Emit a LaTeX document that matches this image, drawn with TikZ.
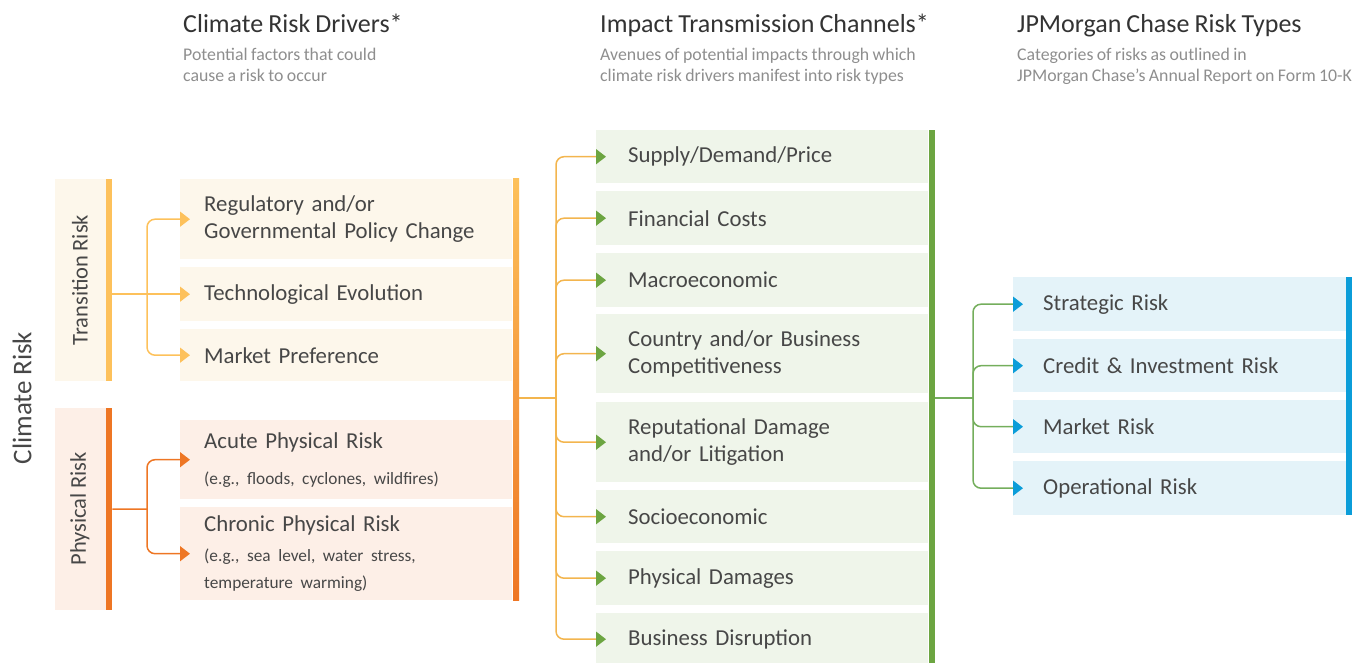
\documentclass[tikz,border=0pt]{standalone}
\usepackage{fontspec}
\setmainfont{Carlito}[WordSpace=0.85]
\usetikzlibrary{arrows.meta}
\frenchspacing

\definecolor{yellowbar}{HTML}{FDC15B}
\definecolor{creamfill}{HTML}{FDF7EB}
\definecolor{orangebar}{HTML}{EE7624}
\definecolor{peachfill}{HTML}{FDEFE7}
\definecolor{chgreen}{HTML}{6CA541}
\definecolor{greenfill}{HTML}{EFF5EA}
\definecolor{riskblue}{HTML}{0B9DD9}
\definecolor{bluefill}{HTML}{E4F3F9}
\definecolor{chline}{HTML}{F3B54E}
\definecolor{rkline}{HTML}{74AE5C}
\definecolor{txtgray}{HTML}{474747}
\definecolor{subgray}{HTML}{8E8E8E}

\newcommand{\boxfont}{\fontsize{22.8}{27}\selectfont}
\newcommand{\smallfont}{\fontsize{17.3}{21}\selectfont}

\begin{document}
\begin{tikzpicture}[x=1pt, y=-1pt,
        % 定義通用樣式
        catbox/.style={rectangle, anchor=north west, inner sep=0pt, minimum width=57pt, minimum height=202pt, fill=#1}, % 左側分類框
        catlabel/.style={rotate=90, font=\fontsize{22.5}{26}\selectfont, text=txtgray}, % 直排文字
        item/.style={rectangle, anchor=north west, inner ysep=0pt, align=left, font=\boxfont, text=txtgray}, % 項目框
        drvbox/.style={item, inner xsep=24pt, text width=284pt, fill=#1}, % 驅動因素框
        chbox/.style={item, inner xsep=32pt, text width=268pt, fill=greenfill}, % 傳導管道框
        rkbox/.style={item, inner xsep=30pt, text width=273pt, fill=bluefill}, % 風險類型框
        head/.style={anchor=north west, inner sep=0pt, font=\fontsize{26}{30}\selectfont, text=black!80}, % 標題
        subhead/.style={anchor=north west, inner sep=0pt, align=left, font=\fontsize{17.8}{21}\selectfont, text=subgray}, % 副標題
        link/.style={line width=1.5pt, rounded corners=8pt}, % 連接線
        tip/.style={-{Triangle[length=10pt, width=15pt, color=#1]}, shorten >=-10pt} % 箭頭
    ]

        \useasboundingbox (0,0) rectangle (1366,663);

        % --- 標題列 ---
        \node[head] (h1) at (183,14) {Climate Risk Drivers*};
        \node[subhead] (s1) at (183,48) {Potential factors that could\\cause a risk to occur};
        \node[head] (h2) at (600,14) {Impact Transmission Channels*};
        \node[subhead] (s2) at (600,48) {Avenues of potential impacts through which\\climate risk drivers manifest into risk types};
        \node[head] (h3) at (1017,14) {JPMorgan Chase Risk Types};
        \node[subhead] (s3) at (1017,48) {Categories of risks as outlined in\\JPMorgan Chase’s Annual Report on Form 10-K};

        % --- 左側: Climate Risk ---
        \node[rotate=90, font=\fontsize{27}{30}\selectfont, text=txtgray] (climate) at (22,398) {Climate Risk};

        % 1. 分類框 (右側色條)
        \node[catbox=creamfill] (trans) at (55,179) {};
        \fill[yellowbar] (106,179) rectangle (112,381);
        \node[catlabel] (translbl) at (80,280) {Transition Risk};
        \node[catbox=peachfill] (phys) at (55,408) {};
        \fill[orangebar] (106,408) rectangle (112,610);
        \node[catlabel] (physlbl) at (80,509) {Physical Risk};

        % --- 圖 (a): Climate Risk Drivers ---
        \node[drvbox=creamfill, minimum height=80pt] (reg) at (180,179) {Regulatory and/or\\Governmental Policy Change};
        \node[drvbox=creamfill, minimum height=54pt] (tech) at (180,267) {Technological Evolution};
        \node[drvbox=creamfill, minimum height=52pt] (mkt) at (180,329) {Market Preference};
        \node[drvbox=peachfill, minimum height=79pt] (acute) at (180,420) {Acute Physical Risk\\[9pt]\smallfont (e.g., floods, cyclones, wildfires)};
        \node[drvbox=peachfill, minimum height=93pt] (chronic) at (180,507) {Chronic Physical Risk\\[9pt]\smallfont (e.g., sea level, water stress,\\temperature warming)};
        \shade[top color=yellowbar, bottom color=orangebar] (513,179) rectangle (519,600);

        % 2. 分支箭頭
        \coordinate (tj) at (147,294);
        \coordinate (pj) at (147,509);
        \draw[link, yellowbar, tip=yellowbar] (trans.east |- tech.west) -- (tech.west);
        \draw[link, yellowbar, tip=yellowbar] (tj) |- (reg.west);
        \draw[link, yellowbar, tip=yellowbar] (tj) |- (mkt.west);
        \draw[link, orangebar] (phys.east) -- (pj);
        \draw[link, orangebar, tip=orangebar] (pj) |- (acute.west);
        \draw[link, orangebar, tip=orangebar] (pj) |- (chronic.west);

        % --- 圖 (b): Impact Transmission Channels ---
        \node[chbox, minimum height=53pt] (supply) at (596,130) {Supply/Demand/Price};
        \node[chbox, minimum height=54pt] (fin) at (596,191) {Financial Costs};
        \node[chbox, minimum height=54pt] (macro) at (596,253) {Macroeconomic};
        \node[chbox, minimum height=79pt] (country) at (596,314) {Country and/or Business\\Competitiveness};
        \node[chbox, minimum height=80pt] (reput) at (596,402) {Reputational Damage\\and/or Litigation};
        \node[chbox, minimum height=53pt] (socio) at (596,490) {Socioeconomic};
        \node[chbox, minimum height=54pt] (physdmg) at (596,551) {Physical Damages};
        \node[chbox, minimum height=52pt] (disrupt) at (596,613) {Business Disruption};
        \fill[chgreen] (929,130) rectangle (935,663);

        % 3. 由驅動因素連到各管道
        \coordinate (drvbar) at (519,398);
        \coordinate (cj) at (556,398);
        \draw[link, chline] (drvbar) -- (cj);
        \draw[link, chline, tip=chgreen] (cj) |- (supply.west);
        \draw[link, chline, tip=chgreen] (cj) |- (fin.west);
        \draw[link, chline, tip=chgreen] (cj) |- (macro.west);
        \draw[link, chline, tip=chgreen] (cj) |- (country.west);
        \draw[link, chline, tip=chgreen] (cj) |- (reput.west);
        \draw[link, chline, tip=chgreen] (cj) |- (socio.west);
        \draw[link, chline, tip=chgreen] (cj) |- (physdmg.west);
        \draw[link, chline, tip=chgreen] (cj) |- (disrupt.west);

        % --- 圖 (c): JPMorgan Chase Risk Types ---
        \node[rkbox, minimum height=54pt] (strat) at (1013,277) {Strategic Risk};
        \node[rkbox, minimum height=53pt] (credit) at (1013,339) {Credit \& Investment Risk};
        \node[rkbox, minimum height=53pt] (market) at (1013,400) {Market Risk};
        \node[rkbox, minimum height=54pt] (oper) at (1013,461) {Operational Risk};
        \fill[riskblue] (1346,277) rectangle (1352,515);

        % 4. 由管道連到各風險類型
        \coordinate (chbar) at (935,398);
        \coordinate (rj) at (973,398);
        \draw[link, rkline] (chbar) -- (rj);
        \draw[link, rkline, tip=riskblue] (rj) |- (strat.west);
        \draw[link, rkline, tip=riskblue] (rj) |- (credit.west);
        \draw[link, rkline, tip=riskblue] (rj) |- (market.west);
        \draw[link, rkline, tip=riskblue] (rj) |- (oper.west);

    \end{tikzpicture}
\end{document}
